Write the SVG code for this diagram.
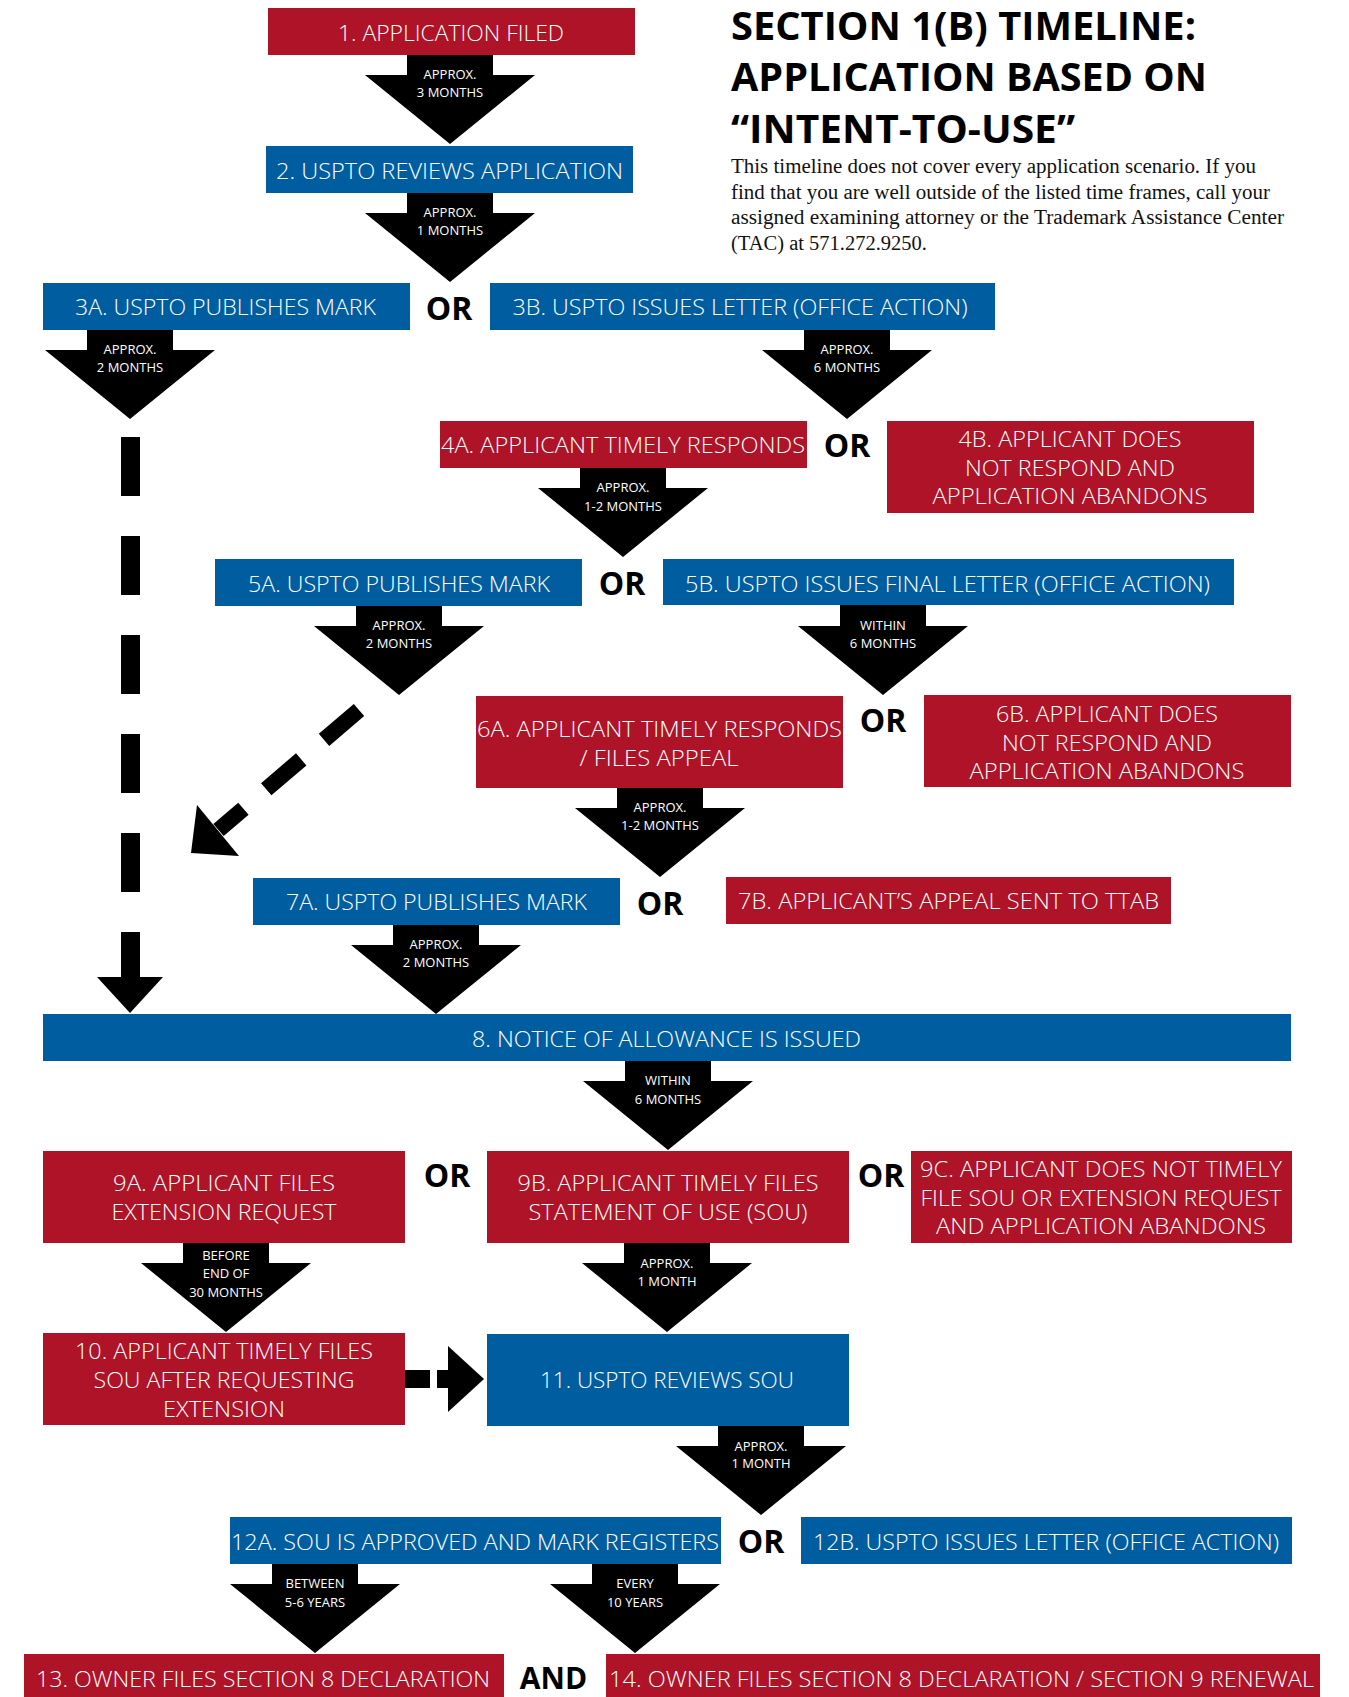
<svg xmlns="http://www.w3.org/2000/svg" xmlns:xlink="http://www.w3.org/1999/xlink" width="1349" height="1697" viewBox="0 0 1349 1697">
<style>
.red{fill:#AE1328}
.blue{fill:#005EA0}
.bt{font-family:"Open Sans","Liberation Sans",sans-serif;font-size:22px;font-weight:300;fill:#fff;text-anchor:middle}
.al{font-family:"Open Sans","Liberation Sans",sans-serif;font-size:13px;font-weight:400;fill:#fff;text-anchor:middle}
.or{font-family:"Open Sans","Liberation Sans",sans-serif;font-size:32px;font-weight:700;fill:#000;text-anchor:middle}
.ttl{font-family:"Open Sans","Liberation Sans",sans-serif;font-size:39px;font-weight:700;fill:#000}
.para{font-family:"Liberation Serif","Times New Roman",serif;font-size:20px;fill:#111}
</style>
<defs>
<path id="ba" d="M-43,-1 H43 V20 H85 L0,89 L-85,20 H-43 Z" fill="#000"/>
</defs>

<g id="title">
<text class="ttl" x="731" y="40" textLength="465" lengthAdjust="spacingAndGlyphs">SECTION 1(B) TIMELINE:</text>
<text class="ttl" x="731" y="91" textLength="476" lengthAdjust="spacingAndGlyphs">APPLICATION BASED ON</text>
<text class="ttl" x="731" y="143" textLength="344" lengthAdjust="spacingAndGlyphs">“INTENT-TO-USE”</text>
<text class="para" x="731" y="173" textLength="525" lengthAdjust="spacingAndGlyphs">This timeline does not cover every application scenario. If you</text>
<text class="para" x="731" y="199" textLength="539" lengthAdjust="spacingAndGlyphs">find that you are well outside of the listed time frames, call your</text>
<text class="para" x="731" y="224" textLength="553" lengthAdjust="spacingAndGlyphs">assigned examining attorney or the Trademark Assistance Center</text>
<text class="para" x="731" y="250" textLength="196" lengthAdjust="spacingAndGlyphs">(TAC) at 571.272.9250.</text>
</g>

<g id="connectors">
<use href="#ba" transform="translate(450,55)"/>
<text class="al" x="450" y="79">APPROX.</text><text class="al" x="450" y="97">3 MONTHS</text>
<use href="#ba" transform="translate(450,193)"/>
<text class="al" x="450" y="217">APPROX.</text><text class="al" x="450" y="235">1 MONTHS</text>
<use href="#ba" transform="translate(130,330)"/>
<text class="al" x="130" y="354">APPROX.</text><text class="al" x="130" y="372">2 MONTHS</text>
<use href="#ba" transform="translate(847,330)"/>
<text class="al" x="847" y="354">APPROX.</text><text class="al" x="847" y="372">6 MONTHS</text>
<use href="#ba" transform="translate(623,468)"/>
<text class="al" x="623" y="492">APPROX.</text><text class="al" x="623" y="511">1-2 MONTHS</text>
<use href="#ba" transform="translate(399,606)"/>
<text class="al" x="399" y="630">APPROX.</text><text class="al" x="399" y="648">2 MONTHS</text>
<use href="#ba" transform="translate(883,606)"/>
<text class="al" x="883" y="630">WITHIN</text><text class="al" x="883" y="648">6 MONTHS</text>
<use href="#ba" transform="translate(660,788)"/>
<text class="al" x="660" y="812">APPROX.</text><text class="al" x="660" y="830">1-2 MONTHS</text>
<use href="#ba" transform="translate(436,925)"/>
<text class="al" x="436" y="949">APPROX.</text><text class="al" x="436" y="967">2 MONTHS</text>
<use href="#ba" transform="translate(668,1061)"/>
<text class="al" x="668" y="1085">WITHIN</text><text class="al" x="668" y="1104">6 MONTHS</text>
<use href="#ba" transform="translate(226,1243)"/>
<text class="al" x="226" y="1260">BEFORE</text><text class="al" x="226" y="1278">END OF</text><text class="al" x="226" y="1297">30 MONTHS</text>
<use href="#ba" transform="translate(667,1243)"/>
<text class="al" x="667" y="1268">APPROX.</text><text class="al" x="667" y="1286">1 MONTH</text>
<use href="#ba" transform="translate(761,1426)"/>
<text class="al" x="761" y="1451">APPROX.</text><text class="al" x="761" y="1468">1 MONTH</text>
<use href="#ba" transform="translate(315,1564)"/>
<text class="al" x="315" y="1588">BETWEEN</text><text class="al" x="315" y="1607">5-6 YEARS</text>
<use href="#ba" transform="translate(635,1564)"/>
<text class="al" x="635" y="1588">EVERY</text><text class="al" x="635" y="1607">10 YEARS</text>
<!-- dashed vertical 3A -> 8 -->
<path d="M130.5,437 V978" stroke="#000" stroke-width="19" stroke-dasharray="59 40" fill="none"/>
<polygon points="97,977 163,977 130,1013" fill="#000"/>
<!-- dashed diagonal 5A -> 8 -->
<path d="M359,710 L218.5,830" stroke="#000" stroke-width="16" stroke-dasharray="46 30 46 30 60" fill="none"/>
<polygon points="191,853 197,805 239,856" fill="#000"/>
<!-- dashed 10 -> 11 -->
<rect x="405" y="1370" width="25" height="18" fill="#000"/>
<rect x="437" y="1370" width="12" height="18" fill="#000"/>
<polygon points="448,1346 484,1379 448,1412" fill="#000"/>
</g>

<g id="n1"><rect class="red" x="268" y="8" width="367" height="47"/><text class="bt" x="451" y="41" textLength="226" lengthAdjust="spacingAndGlyphs">1. APPLICATION FILED</text></g>
<g id="n2"><rect class="blue" x="266" y="146" width="367" height="47"/><text class="bt" x="449.5" y="179" textLength="347" lengthAdjust="spacingAndGlyphs">2. USPTO REVIEWS APPLICATION</text></g>
<g id="n3a"><rect class="blue" x="43" y="283" width="367" height="47"/><text class="bt" x="225.5" y="315" textLength="301" lengthAdjust="spacingAndGlyphs">3A. USPTO PUBLISHES MARK</text></g>
<g id="or3"><text class="or" x="449" y="320">OR</text></g>
<g id="n3b"><rect class="blue" x="490" y="283" width="505" height="47"/><text class="bt" x="740" y="315" textLength="455" lengthAdjust="spacingAndGlyphs">3B. USPTO ISSUES LETTER (OFFICE ACTION)</text></g>
<g id="n4a"><rect class="red" x="440" y="421" width="367" height="47"/><text class="bt" x="623" y="453" textLength="364" lengthAdjust="spacingAndGlyphs">4A. APPLICANT TIMELY RESPONDS</text></g>
<g id="or4"><text class="or" x="847" y="457">OR</text></g>
<g id="n4b"><rect class="red" x="887" y="421" width="367" height="92"/>
<text class="bt" x="1070" y="447" textLength="223" lengthAdjust="spacingAndGlyphs">4B. APPLICANT DOES</text>
<text class="bt" x="1070" y="476" textLength="210" lengthAdjust="spacingAndGlyphs">NOT RESPOND AND</text>
<text class="bt" x="1070" y="504" textLength="275" lengthAdjust="spacingAndGlyphs">APPLICATION ABANDONS</text></g>
<g id="n5a"><rect class="blue" x="215" y="559" width="367" height="47"/><text class="bt" x="399" y="592" textLength="302" lengthAdjust="spacingAndGlyphs">5A. USPTO PUBLISHES MARK</text></g>
<g id="or5"><text class="or" x="622" y="595">OR</text></g>
<g id="n5b"><rect class="blue" x="663" y="559" width="571" height="46"/><text class="bt" x="947.5" y="592" textLength="525" lengthAdjust="spacingAndGlyphs">5B. USPTO ISSUES FINAL LETTER (OFFICE ACTION)</text></g>
<g id="n6a"><rect class="red" x="476" y="696" width="367" height="92"/>
<text class="bt" x="659.5" y="737" textLength="365" lengthAdjust="spacingAndGlyphs">6A. APPLICANT TIMELY RESPONDS</text>
<text class="bt" x="659" y="766" textLength="159" lengthAdjust="spacingAndGlyphs">/ FILES APPEAL</text></g>
<g id="or6"><text class="or" x="883" y="732">OR</text></g>
<g id="n6b"><rect class="red" x="924" y="695" width="367" height="92"/>
<text class="bt" x="1107" y="722" textLength="222" lengthAdjust="spacingAndGlyphs">6B. APPLICANT DOES</text>
<text class="bt" x="1107" y="751" textLength="210" lengthAdjust="spacingAndGlyphs">NOT RESPOND AND</text>
<text class="bt" x="1107" y="779" textLength="275" lengthAdjust="spacingAndGlyphs">APPLICATION ABANDONS</text></g>
<g id="n7a"><rect class="blue" x="253" y="878" width="367" height="47"/><text class="bt" x="436.5" y="910" textLength="301" lengthAdjust="spacingAndGlyphs">7A. USPTO PUBLISHES MARK</text></g>
<g id="or7"><text class="or" x="660" y="915">OR</text></g>
<g id="n7b"><rect class="red" x="726" y="877" width="445" height="47"/><text class="bt" x="948.5" y="909" textLength="421" lengthAdjust="spacingAndGlyphs">7B. APPLICANT’S APPEAL SENT TO TTAB</text></g>
<g id="n8"><rect class="blue" x="43" y="1014" width="1248" height="47"/><text class="bt" x="666.5" y="1047" textLength="389" lengthAdjust="spacingAndGlyphs">8. NOTICE OF ALLOWANCE IS ISSUED</text></g>
<g id="n9a"><rect class="red" x="43" y="1151" width="362" height="92"/>
<text class="bt" x="224" y="1191" textLength="222" lengthAdjust="spacingAndGlyphs">9A. APPLICANT FILES</text>
<text class="bt" x="224" y="1220" textLength="225" lengthAdjust="spacingAndGlyphs">EXTENSION REQUEST</text></g>
<g id="or9a"><text class="or" x="447" y="1187">OR</text></g>
<g id="n9b"><rect class="red" x="487" y="1151" width="362" height="92"/>
<text class="bt" x="668" y="1191" textLength="301" lengthAdjust="spacingAndGlyphs">9B. APPLICANT TIMELY FILES</text>
<text class="bt" x="668" y="1220" textLength="279" lengthAdjust="spacingAndGlyphs">STATEMENT OF USE (SOU)</text></g>
<g id="or9b"><text class="or" x="881" y="1187">OR</text></g>
<g id="n9c"><rect class="red" x="911" y="1151" width="381" height="92"/>
<text class="bt" x="1101" y="1177" textLength="362" lengthAdjust="spacingAndGlyphs">9C. APPLICANT DOES NOT TIMELY</text>
<text class="bt" x="1101" y="1206" textLength="361" lengthAdjust="spacingAndGlyphs">FILE SOU OR EXTENSION REQUEST</text>
<text class="bt" x="1101" y="1234" textLength="330" lengthAdjust="spacingAndGlyphs">AND APPLICATION ABANDONS</text></g>
<g id="n10"><rect class="red" x="43" y="1333" width="362" height="92"/>
<text class="bt" x="224" y="1359" textLength="298" lengthAdjust="spacingAndGlyphs">10. APPLICANT TIMELY FILES</text>
<text class="bt" x="224" y="1388" textLength="261" lengthAdjust="spacingAndGlyphs">SOU AFTER REQUESTING</text>
<text class="bt" x="224" y="1417" textLength="122" lengthAdjust="spacingAndGlyphs">EXTENSION</text></g>
<g id="n11"><rect class="blue" x="487" y="1334" width="362" height="92"/>
<text class="bt" x="667" y="1388" textLength="254" lengthAdjust="spacingAndGlyphs">11. USPTO REVIEWS SOU</text></g>
<g id="n12a"><rect class="blue" x="230" y="1517" width="491" height="47"/><text class="bt" x="475" y="1550" textLength="488" lengthAdjust="spacingAndGlyphs">12A. SOU IS APPROVED AND MARK REGISTERS</text></g>
<g id="or12"><text class="or" x="761" y="1553">OR</text></g>
<g id="n12b"><rect class="blue" x="801" y="1517" width="491" height="47"/><text class="bt" x="1046" y="1550" textLength="466" lengthAdjust="spacingAndGlyphs">12B. USPTO ISSUES LETTER (OFFICE ACTION)</text></g>
<g id="n13"><rect class="red" x="24" y="1654" width="480" height="43"/><text class="bt" x="263" y="1687" textLength="454" lengthAdjust="spacingAndGlyphs">13. OWNER FILES SECTION 8 DECLARATION</text></g>
<g id="and13"><text class="or" x="553.5" y="1689" style="font-size:30px">AND</text></g>
<g id="n14"><rect class="red" x="606" y="1654" width="714" height="43"/><text class="bt" x="961.5" y="1687" textLength="705" lengthAdjust="spacingAndGlyphs">14. OWNER FILES SECTION 8 DECLARATION / SECTION 9 RENEWAL</text></g>
</svg>
